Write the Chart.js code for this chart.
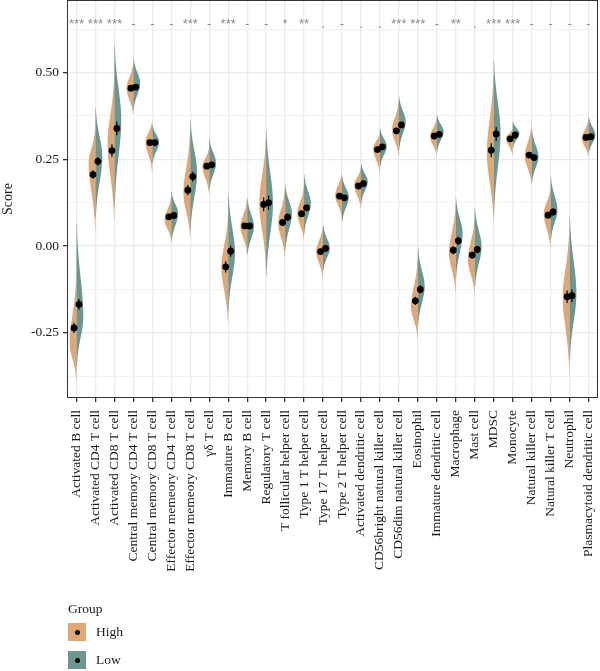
<!DOCTYPE html>
<html><head><meta charset="utf-8">
<script src="https://cdn.jsdelivr.net/npm/chart.js@4/dist/chart.umd.min.js"></script>
<style>
html,body{margin:0;padding:0;background:#fff;}
#wrap{position:relative;width:600px;height:671px;overflow:hidden;}
#legend{position:absolute;left:68px;top:598px;font-family:"Liberation Serif",serif;font-size:13.5px;color:#1a1a1a;}
#legend .title{height:22px;line-height:22px;margin-bottom:3px;}
#legend .item{position:relative;height:18px;margin-bottom:10px;}
#legend .box{position:absolute;left:0;top:0;width:18px;height:18px;}
#legend .box span{position:absolute;left:6.5px;top:6.5px;width:5px;height:5px;border-radius:50%;background:#000;}
#legend .lab{position:absolute;left:28px;top:0;line-height:18px;}
</style></head><body>
<div id="wrap"><canvas id="c" width="600" height="671"></canvas>
<div id="legend">
  <div class="title">Group</div>
  <div class="item"><div class="box" style="background:#DFA676"><span></span></div><div class="lab">High</div></div>
  <div class="item"><div class="box" style="background:#6D9690"><span></span></div><div class="lab">Low</div></div>
</div></div>
<script>
const categories = ["Activated B cell","Activated CD4 T cell","Activated CD8 T cell","Central memory CD4 T cell","Central memory CD8 T cell","Effector memeory CD4 T cell","Effector memeory CD8 T cell","γδ T cell","Immature B cell","Memory B cell","Regulatory T cell","T follicular helper cell","Type 1 T helper cell","Type 17 T helper cell","Type 2 T helper cell","Activated dendritic cell","CD56bright natural killer cell","CD56dim natural killer cell","Eosinophil","Immature dendritic cell","Macrophage","Mast cell","MDSC","Monocyte","Natural killer cell","Natural killer T cell","Neutrophil","Plasmacytoid dendritic cell"];
const sigLabels = ["***","***","***","-","-","-","***","-","***","-","-","*","**",".","-",".",".","***","***","-","**",".","***","***","-","-","-","-"];

// High group: violin lower end, density peak, upper end, median, error
const highMin  = [-0.387,0.046,0.075,0.378,0.214,0.017,0.027,0.152,-0.218,-0.020,-0.060,-0.031,0.017,-0.093,0.080,0.109,0.210,0.258,-0.266,0.262,-0.132,-0.137,0.075,0.262,0.181,-0.007,-0.362,0.258];
const highPeak = [-0.280,0.238,0.296,0.455,0.300,0.075,0.152,0.229,-0.060,0.056,0.123,0.065,0.094,-0.016,0.147,0.176,0.282,0.335,-0.175,0.315,-0.020,-0.040,0.267,0.310,0.258,0.094,-0.146,0.310];
const highMax  = [-0.088,0.339,0.488,0.527,0.359,0.142,0.325,0.282,0.085,0.133,0.310,0.162,0.171,0.056,0.210,0.224,0.325,0.416,-0.040,0.368,0.113,0.080,0.493,0.339,0.349,0.166,0.046,0.363];
const highMedian = [-0.236,0.206,0.275,0.455,0.298,0.084,0.161,0.230,-0.060,0.058,0.120,0.068,0.093,-0.016,0.144,0.173,0.278,0.332,-0.158,0.317,-0.012,-0.026,0.276,0.309,0.262,0.089,-0.146,0.313];
const highErr  = [0.015,0.012,0.018,0.005,0.006,0.006,0.015,0.006,0.016,0.007,0.020,0.010,0.008,0.007,0.006,0.006,0.006,0.008,0.012,0.005,0.012,0.010,0.020,0.005,0.008,0.010,0.018,0.006];

// Low group
const lowMin  = [-0.348,0.080,0.113,0.392,0.238,0.0125,0.046,0.162,-0.185,-0.026,-0.088,-0.012,0.037,-0.070,0.070,0.123,0.229,0.277,-0.228,0.272,-0.093,-0.117,0.089,0.282,0.181,0.017,-0.329,0.267];
const lowPeak = [-0.204,0.258,0.363,0.469,0.300,0.094,0.210,0.238,-0.020,0.056,0.123,0.094,0.123,-0.007,0.142,0.186,0.287,0.359,-0.117,0.330,0.037,-0.002,0.325,0.325,0.258,0.104,-0.137,0.320];
const lowMax  = [0.065,0.397,0.580,0.541,0.349,0.157,0.363,0.310,0.152,0.138,0.335,0.176,0.205,0.060,0.200,0.238,0.339,0.430,-0.007,0.378,0.138,0.109,0.537,0.359,0.335,0.200,0.085,0.373];
const lowMedian = [-0.168,0.244,0.339,0.458,0.298,0.088,0.200,0.234,-0.015,0.058,0.125,0.083,0.110,-0.007,0.139,0.180,0.286,0.349,-0.125,0.322,0.015,-0.010,0.323,0.320,0.255,0.098,-0.143,0.315];
const lowErr  = [0.016,0.012,0.020,0.005,0.006,0.006,0.014,0.006,0.016,0.007,0.020,0.010,0.008,0.007,0.006,0.006,0.006,0.008,0.012,0.005,0.012,0.010,0.020,0.005,0.008,0.010,0.018,0.006];

const yMajorTicks = [-0.25, 0, 0.25, 0.5];
const yAllTicks = [-0.375,-0.25,-0.125,0,0.125,0.25,0.375,0.5,0.625];

const COLOR_HIGH = '#DFA676', COLOR_LOW = '#6D9690';
const DODGE = 0.13, VIOLIN_HALF = 0.36, SIG_Y = 0.629;
const SERIF = '"Liberation Serif", "DejaVu Serif", serif';

const violinPlugin = {
  id: 'violins',
  beforeDatasetsDraw(chart) {
    const {ctx, scales: {x, y}, chartArea: a} = chart;
    ctx.save();
    ctx.beginPath(); ctx.rect(a.left, a.top, a.right - a.left, a.bottom - a.top); ctx.clip();
    const groups = [
      {min: highMin, peak: highPeak, max: highMax, color: COLOR_HIGH, side: -1},
      {min: lowMin, peak: lowPeak, max: lowMax, color: COLOR_LOW, side: 1}
    ];
    categories.forEach((c, i) => {
      const cx = x.getPixelForValue(i);
      const halfPx = x.getPixelForValue(i + VIOLIN_HALF) - cx;
      groups.forEach(g => {
        const lo = g.min[i], pk = g.peak[i], hi = g.max[i];
        const n = 80;
        ctx.beginPath();
        ctx.moveTo(cx, y.getPixelForValue(lo));
        for (let k = 0; k <= n; k++) {
          const v = lo + (hi - lo) * k / n;
          const s = (v < pk ? (pk - lo) : (hi - pk)) / 2.4 || 1e-6;
          const d = Math.exp(-0.5 * Math.pow((v - pk) / s, 2));
          ctx.lineTo(cx + g.side * halfPx * d, y.getPixelForValue(v));
        }
        ctx.lineTo(cx, y.getPixelForValue(hi));
        ctx.closePath();
        ctx.fillStyle = g.color;
        ctx.fill();
      });
      ctx.strokeStyle = '#000'; ctx.lineWidth = 1.2;
      [[highMedian, highErr, -DODGE], [lowMedian, lowErr, DODGE]].forEach(([m, e, off]) => {
        const px = x.getPixelForValue(i + off);
        ctx.beginPath();
        ctx.moveTo(px, y.getPixelForValue(m[i] - e[i]));
        ctx.lineTo(px, y.getPixelForValue(m[i] + e[i]));
        ctx.stroke();
      });
    });
    ctx.restore();
  },
  afterDraw(chart) {
    const {ctx, scales: {x, y}, chartArea: a} = chart;
    ctx.save();
    ctx.strokeStyle = '#333'; ctx.lineWidth = 1;
    ctx.strokeRect(a.left + 0.5, a.top + 0.5, a.right - a.left - 1, a.bottom - a.top - 1);
    ctx.fillStyle = '#8a8a8a';
    ctx.font = '13px "Liberation Sans", Arial, sans-serif';
    ctx.textAlign = 'center'; ctx.textBaseline = 'alphabetic';
    sigLabels.forEach((s, i) => {
      ctx.fillText(s, x.getPixelForValue(i), y.getPixelForValue(SIG_Y));
    });
    ctx.restore();
  }
};

new Chart(document.getElementById('c'), {
  type: 'scatter',
  data: {
    datasets: [
      {label: 'High', data: highMedian.map((v, i) => ({x: i - DODGE, y: v})), backgroundColor: '#000', borderWidth: 0, pointRadius: 3.4},
      {label: 'Low', data: lowMedian.map((v, i) => ({x: i + DODGE, y: v})), backgroundColor: '#000', borderWidth: 0, pointRadius: 3.4}
    ]
  },
  options: {
    responsive: false, animation: false, devicePixelRatio: 1,
    layout: {autoPadding: false, padding: {top: 0, right: 2, bottom: 73, left: 0}},
    plugins: {legend: {display: false}, tooltip: {enabled: false}},
    scales: {
      x: {
        type: 'linear', min: -0.5, max: 27.5,
        afterBuildTicks: axis => { axis.ticks = categories.map((_, i) => ({value: i})); },
        afterFit: axis => { axis.height = 200; axis.paddingLeft = 0; axis.paddingRight = 0; },
        grid: {color: '#EBEBEB', lineWidth: 1.3, tickColor: '#333', tickLength: 4, drawOnChartArea: true},
        border: {display: false},
        ticks: {autoSkip: false, minRotation: 90, maxRotation: 90, padding: 8, color: '#1a1a1a',
                font: {family: SERIF, size: 13.5}, callback: v => categories[v]}
      },
      y: {
        min: -0.438, max: 0.709,
        afterBuildTicks: axis => { axis.ticks = yAllTicks.map(v => ({value: v})); },
        afterFit: axis => { axis.width = 67; axis.paddingTop = 0; axis.paddingBottom = 0; },
        grid: {
          color: ctx => yMajorTicks.includes(ctx.tick && ctx.tick.value) ? '#EBEBEB' : '#F2F2F2',
          lineWidth: ctx => yMajorTicks.includes(ctx.tick && ctx.tick.value) ? 1.3 : 1,
          tickColor: ctx => yMajorTicks.includes(ctx.tick && ctx.tick.value) ? '#333' : 'rgba(0,0,0,0)',
          tickLength: 4
        },
        border: {display: false},
        title: {display: true, text: 'Score', color: '#1a1a1a', font: {family: SERIF, size: 14}, padding: {top: 0, bottom: 0}},
        ticks: {padding: 4, color: '#1a1a1a', font: {family: SERIF, size: 13.5},
                callback: v => yMajorTicks.includes(v) ? v.toFixed(2) : ''}
      }
    }
  },
  plugins: [violinPlugin]
});
</script>
</body></html>
